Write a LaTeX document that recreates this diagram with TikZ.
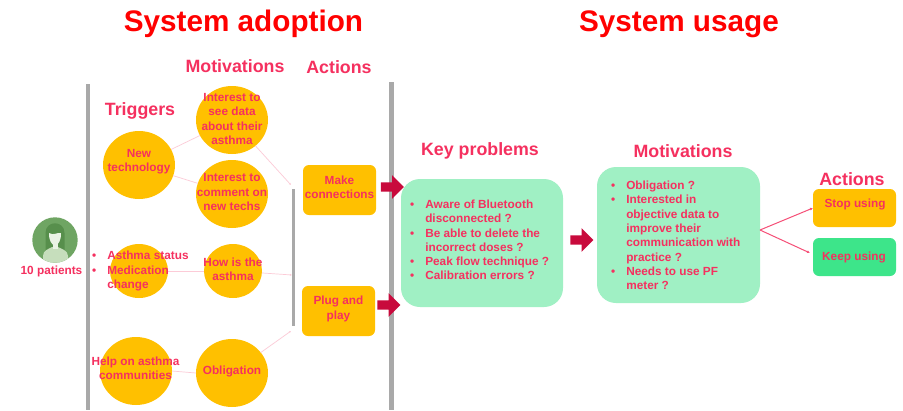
\documentclass[tikz,border=0pt]{standalone}
\usepackage{fontspec}
\setmainfont{Liberation Sans}
\usetikzlibrary{shapes.geometric,shapes.arrows,arrows.meta}
\definecolor{pinktxt}{HTML}{F5305F}
\definecolor{amber}{HTML}{FFC000}
\definecolor{mint}{HTML}{A0F0C4}
\definecolor{keepg}{HTML}{3DE58A}
\definecolor{crim}{HTML}{C80A3C}
\definecolor{barg}{HTML}{A9A9A9}
\definecolor{avbg}{HTML}{6FA563}
\definecolor{avhair}{HTML}{578F4C}
\definecolor{avbody}{HTML}{C6DEBC}
\definecolor{avface}{HTML}{EAF3E5}
\newcommand{\bl}{\makebox[12pt][l]{•}}
\newcommand{\ind}{\hspace*{12pt}}
\tikzset{
  x=1pt,y=-1pt,
  every node/.style={inner sep=0pt,outer sep=0pt,font=\bfseries\fontsize{11.8}{14.3}\selectfont,text=pinktxt,align=center},
  bigtitle/.style={font=\bfseries\fontsize{29.7}{32}\selectfont,text=red},
  heading/.style={font=\bfseries\fontsize{17.8}{20}\selectfont,text=pinktxt},
  disc/.style={ellipse,fill=amber},
  abox/.style={rectangle,rounded corners=6pt,fill=amber},
  gbox/.style={rectangle,rounded corners=19pt,fill=mint},
  vbar/.style={rectangle,fill=barg},
  blockarrow/.style={single arrow,fill=crim,inner ysep=4.5pt,inner xsep=0pt,minimum height=23pt,minimum width=18pt,single arrow tip angle=90},
  faint/.style={draw=pinktxt!25,line width=0.7pt,-{Latex[length=2pt,width=2pt]}},
  strong/.style={draw=pinktxt!85,line width=1pt,-{Latex[length=3pt,width=3pt]}},
  plain/.style={draw=pinktxt!25,line width=0.7pt}
}
\begin{document}
\begin{tikzpicture}
\useasboundingbox (0,0) rectangle (903,410);
\fill[white] (0,0) rectangle (903,410);
% titles
\node[bigtitle] (t1) at (243.5,24) {System adoption};
\node[bigtitle] (t2) at (679,24) {System usage};
\node[heading] (h1) at (235,66) {Motivations};
\node[heading] (h2) at (339,67) {Actions};
\node[heading] (h3) at (140,111) {Triggers};
\node[heading] (h4) at (480,151) {Key problems};
\node[heading] (h5) at (683,151.5) {Motivations};
\node[heading] (h6) at (852,179) {Actions};
% bars
\node[vbar,minimum width=4pt,minimum height=326pt] (b1) at (88,247) {};
\node[vbar,minimum width=5pt,minimum height=328pt] (b2) at (391,246) {};
\node[vbar,minimum width=3.6pt,minimum height=137pt] (b3) at (293.5,257.5) {};
% avatar
\begin{scope}
\clip (55,240) circle (22.7);
\fill[avbg] (32,216) rectangle (79,264);
\fill[avhair] (45.5,252) -- (45.5,233) .. controls (45.5,220) and (64.5,220) .. (64.5,233) -- (64.5,252) -- cycle;
\fill[avbody] (43,264) -- (43,256) .. controls (43,250) and (49,249) .. (52,247) -- (58,247) .. controls (61,249) and (68,250) .. (68,256) -- (68,264) -- cycle;
\fill[avface] (52.5,243) rectangle (57.5,249);
\fill[avface] (49,233) .. controls (53,236) and (58,232) .. (61,233) .. controls (61.5,240) and (58,245.5) .. (55,245.5) .. controls (52,245.5) and (48.5,240) .. (49,233) -- cycle;
\end{scope}
\node (pat) at (51.5,271.5) {10 patients};
% circles
\node[disc,minimum width=72pt,minimum height=68pt] (tech) at (139,165) {};
\node (techtxt) at (139,162) {New\\technology};
\node[disc,minimum width=72pt,minimum height=68pt] (see) at (232,120) {};
\node (seetxt) at (232,119) {Interest to\\see data\\about their\\asthma};
\node[disc,minimum width=72pt,minimum height=68pt] (comm) at (232,194) {};
\node (commtxt) at (232,192) {Interest to\\comment on\\new techs};
\node[disc,minimum width=58pt,minimum height=54pt] (stat) at (139,271) {};
\node[align=left,anchor=west] (stattxt) at (92,271) {\bl\ Asthma status\\\bl\ Medication\\\ind\ change};
\node[disc,minimum width=58pt,minimum height=54pt] (how) at (233,271) {};
\node (howtxt) at (233,269) {How is the\\asthma};
\node[disc,minimum width=72pt,minimum height=68pt] (help) at (136,371) {};
\node (helptxt) at (135.5,368) {Help on asthma\\communities};
\node[disc,minimum width=72pt,minimum height=68pt] (obl) at (232,373) {};
\node (obltxt) at (232,371.5) {Obligation};
% action boxes
\node[abox,minimum width=73pt,minimum height=50pt] (make) at (339.5,190) {};
\node (maketxt) at (339.5,187) {Make\\connections};
\node[abox,minimum width=73pt,minimum height=50pt] (plug) at (338.5,311) {};
\node (plugtxt) at (338.5,309) {Plug and\\play};
% green boxes
\node[gbox,minimum width=162pt,minimum height=128pt] (kp) at (482,243) {};
\node[align=left,anchor=west] (kptxt) at (410,240) {\bl\ Aware of Bluetooth\\\ind\ disconnected ?\\\bl\ Be able to delete the\\\ind\ incorrect doses ?\\\bl\ Peak flow technique ?\\\bl\ Calibration errors ?};
\node[gbox,minimum width=163pt,minimum height=136pt] (mot) at (678.5,235) {};
\node[align=left,anchor=west] (mottxt) at (611,235.5) {\bl\ Obligation ?\\\bl\ Interested in\\\ind\ objective data to\\\ind\ improve their\\\ind\ communication with\\\ind\ practice ?\\\bl\ Needs to use PF\\\ind\ meter ?};
\node[abox,minimum width=83pt,minimum height=38pt] (stop) at (854.5,208) {};
\node (stoptxt) at (855,204) {Stop using};
\node[abox,fill=keepg,minimum width=83pt,minimum height=38pt] (keep) at (854.5,257) {};
\node (keeptxt) at (854,257) {Keep using};
% block arrows
\node[blockarrow] (a1) at (390,187) {};
\node[blockarrow] (a2) at (386.5,305) {};
\node[blockarrow] (a3) at (579.5,240) {};
% connectors
\coordinate (e1) at (291,185);
\coordinate (e2) at (292,275);
\coordinate (e3) at (291,331);
\draw[plain] (tech) -- (see);
\draw[plain] (tech) -- (comm);
\draw[plain] (stat.east) -- (how.west);
\draw[plain] (help.east) -- (obl.west);
\draw[faint] (see) -- (e1);
\draw[faint] (how) -- (e2);
\draw[faint] (obl) -- (e3);
\draw[strong] ([yshift=5pt]mot.east) -- (stop.west);
\draw[strong] ([yshift=5pt]mot.east) -- ([xshift=-3pt,yshift=4pt]keep.west);
\end{tikzpicture}
\end{document}
